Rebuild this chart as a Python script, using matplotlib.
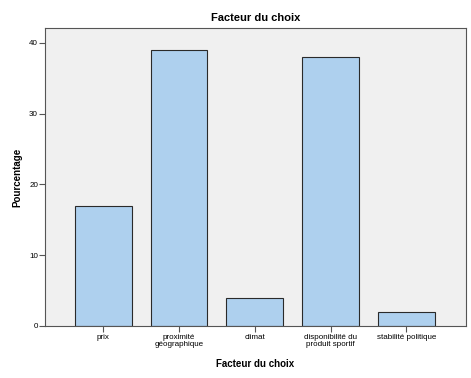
import numpy as np
import matplotlib
matplotlib.use("Agg")
import matplotlib.pyplot as plt

plt.rcParams['font.family'] = ['Liberation Sans', 'DejaVu Sans']

# Data
categories = ['prix', 'proximité\ngéographique', 'climat',
              'disponibilité du\nproduit sportif', 'stabilité politique']
values = [17, 39, 4, 38, 2]
yticks = [0, 10, 20, 30, 40]

fig = plt.figure(figsize=(4.71, 3.78), dpi=100)
ax = fig.add_axes([0.0955, 0.1376, 0.8935, 0.7884])
ax.set_facecolor('#f0f0f0')

x = np.arange(len(categories))
ax.bar(x, values, width=0.75, color='#aed0ee', edgecolor='#2a2a2a', linewidth=0.8)

ax.set_xlim(-0.77, len(categories) - 1 + 0.785)
ax.set_ylim(0, 42.1)
ax.set_yticks(yticks)
ax.set_xticks(x)
ax.set_xticklabels(categories, fontsize=5.8, linespacing=0.95)
ax.tick_params(axis='y', labelsize=5.8, length=4, width=0.8, color='#555555', pad=1)
ax.tick_params(axis='x', length=4, width=0.8, color='#555555', pad=2)

for s in ax.spines.values():
    s.set_color('#555555')
    s.set_linewidth(0.8)

ax.set_title('Facteur du choix', fontsize=8, fontweight='bold', pad=5)
ax.set_xlabel('Facteur du choix', fontsize=7, fontweight='bold', labelpad=8)
ax.set_ylabel('Pourcentage', fontsize=7, fontweight='bold', labelpad=5)

fig.savefig('out.png', dpi=100, facecolor='white')
